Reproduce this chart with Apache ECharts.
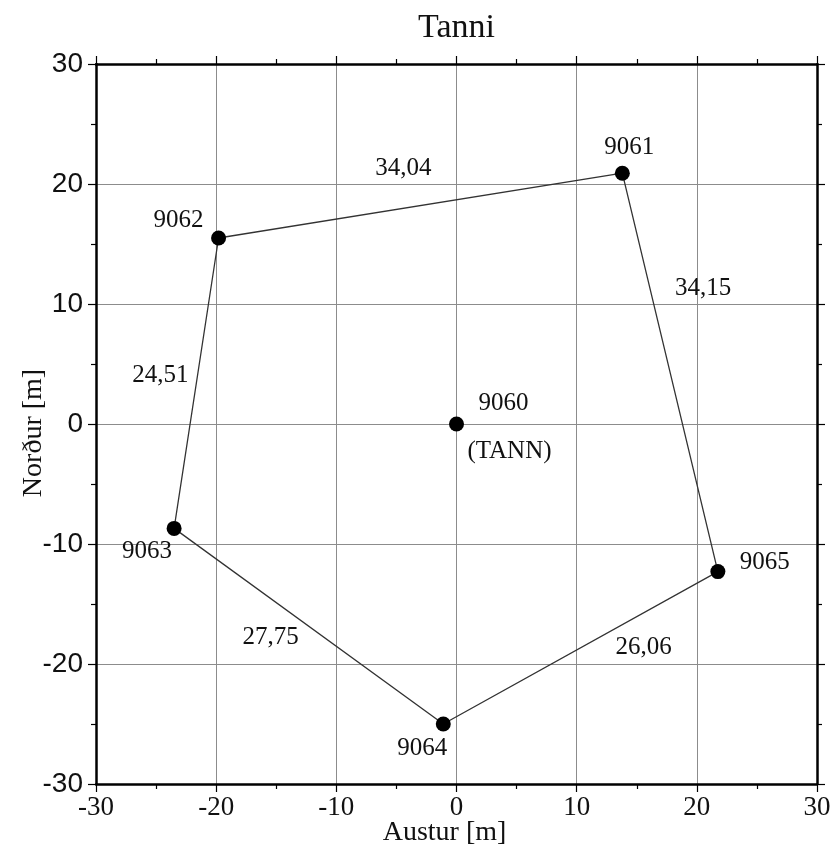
<!DOCTYPE html>
<html>
<head>
<meta charset="utf-8">
<script src="https://cdn.jsdelivr.net/npm/echarts@6/dist/echarts.min.js"></script>
<style>
html,body{margin:0;padding:0;background:#fff;}
#chart{width:832px;height:849px;}
</style>
</head>
<body>
<div id="chart"></div>
<script>
// ---- data ----
const stationNames = ['9060', '9061', '9062', '9063', '9064', '9065'];
const eastValues   = [0, 13.8, -19.8, -23.5, -1.1, 21.75];
const northValues  = [0, 20.9, 15.5, -8.7, -25.0, -12.3];
const centerSubLabel = '(TANN)';
const traverseOrder = ['9062', '9061', '9065', '9064', '9063', '9062'];
const edgeFrom    = ['9062', '9061', '9062', '9063', '9064'];
const edgeTo      = ['9061', '9065', '9063', '9064', '9065'];
const edgeLengths = ['34,04', '34,15', '24,51', '27,75', '26,06'];
const xTickValues = [-30, -20, -10, 0, 10, 20, 30];
const yTickValues = [-30, -20, -10, 0, 10, 20, 30];
const titleText = 'Tanni';
const xName = 'Austur [m]';
const yName = 'Norður [m]';

// ---- styling (pixel offsets for labels) ----
const stationLabelOffset = {
  '9060': [47, -21], '9061': [7, -26], '9062': [-40, -18],
  '9063': [-27, 23], '9064': [-21, 24], '9065': [47, -9]
};
const subLabelOffset = [53, 27];
const edgeLabelOffset = [[-17, -37], [33, -84], [-36, -8], [-38, 11], [63, 0]];

const SERIF = '"Liberation Serif", "Times New Roman", serif';
const SANS = '"Liberation Sans", Arial, sans-serif';

const coord = name => {
  const i = stationNames.indexOf(name);
  return [eastValues[i], northValues[i]];
};

const stationData = stationNames.map((n, i) => ({
  name: n,
  value: [eastValues[i], northValues[i]],
  label: { show: true, formatter: n, position: 'inside', offset: stationLabelOffset[n] }
}));

const lineData = traverseOrder.map(coord);

const edgeData = edgeLengths.map((t, i) => {
  const a = coord(edgeFrom[i]), b = coord(edgeTo[i]);
  return {
    name: t,
    value: [(a[0] + b[0]) / 2, (a[1] + b[1]) / 2],
    label: { show: true, formatter: t, position: 'inside', offset: edgeLabelOffset[i] }
  };
});

const labelText = { fontFamily: SERIF, fontSize: 25, color: '#111', opacity: 1,
  align: 'center', verticalAlign: 'middle' };

const chart = echarts.init(document.getElementById('chart'), null, { renderer: 'canvas' });

const axisLineStyle = { show: true, onZero: false, lineStyle: { color: '#000', width: 2.5 } };
const tickStyle = { show: true, inside: false, length: 8, lineStyle: { color: '#000', width: 1.2 } };
const minorStyle = { show: true, splitNumber: 2, length: 5, lineStyle: { color: '#000', width: 1.2 } };

chart.setOption({
  animation: false,
  backgroundColor: '#fff',
  title: {
    text: titleText,
    left: 413, top: 6,
    textStyle: { fontFamily: SERIF, fontSize: 34, fontWeight: 'normal', color: '#111' }
  },
  grid: { left: 96, right: 15, top: 64, bottom: 65, containLabel: false, outerBoundsMode: 'none' },
  xAxis: [{
    type: 'value', position: 'bottom', min: xTickValues[0], max: xTickValues[xTickValues.length - 1], interval: 10,
    axisLine: axisLineStyle, axisTick: tickStyle, minorTick: minorStyle,
    splitLine: { show: true, lineStyle: { color: '#8c8c8c', width: 1 } },
    axisLabel: { show: true, margin: 10, fontFamily: SERIF, fontSize: 27, color: '#111',
      formatter: v => String(v) },
    name: xName, nameLocation: 'middle', nameGap: 35, nameMoveOverlap: false,
    nameTextStyle: { fontFamily: SERIF, fontSize: 28, color: '#111', padding: [0, 24, 0, 0] }
  }, {
    type: 'value', position: 'top', min: xTickValues[0], max: xTickValues[xTickValues.length - 1], interval: 10,
    axisLine: axisLineStyle, axisTick: tickStyle, minorTick: minorStyle,
    splitLine: { show: false }, axisLabel: { show: false }
  }],
  yAxis: [{
    type: 'value', position: 'left', min: yTickValues[0], max: yTickValues[yTickValues.length - 1], interval: 10,
    axisLine: axisLineStyle, axisTick: tickStyle, minorTick: minorStyle,
    splitLine: { show: true, lineStyle: { color: '#8c8c8c', width: 1 } },
    axisLabel: { show: true, margin: 13, fontFamily: SANS, fontSize: 28, color: '#111' },
    name: yName, nameLocation: 'middle', nameGap: 48, nameMoveOverlap: false,
    nameTextStyle: { fontFamily: SERIF, fontSize: 28, color: '#111', padding: [0, 18, 0, 0] }
  }, {
    type: 'value', position: 'right', min: yTickValues[0], max: yTickValues[yTickValues.length - 1], interval: 10,
    axisLine: axisLineStyle, axisTick: tickStyle, minorTick: minorStyle,
    splitLine: { show: false }, axisLabel: { show: false }
  }],
  series: [
    {
      type: 'line', xAxisIndex: 0, yAxisIndex: 0, data: lineData,
      symbol: 'none', lineStyle: { color: '#333', width: 1.3 }, z: 3, silent: true
    },
    {
      type: 'scatter', xAxisIndex: 0, yAxisIndex: 0, data: stationData,
      symbol: 'circle', symbolSize: 15, itemStyle: { color: '#000', opacity: 1 },
      label: labelText, z: 5, silent: true
    },
    {
      type: 'scatter', xAxisIndex: 0, yAxisIndex: 0,
      data: [{ name: centerSubLabel, value: coord(stationNames[0]),
        label: { show: true, formatter: centerSubLabel, position: 'inside', offset: subLabelOffset } }],
      symbolSize: 0.1, itemStyle: { color: '#fff', opacity: 0 }, label: labelText, z: 6, silent: true
    },
    {
      type: 'scatter', xAxisIndex: 0, yAxisIndex: 0, data: edgeData,
      symbolSize: 0.1, itemStyle: { color: '#fff', opacity: 0 }, label: labelText, z: 6, silent: true
    }
  ]
});
</script>
</body>
</html>
